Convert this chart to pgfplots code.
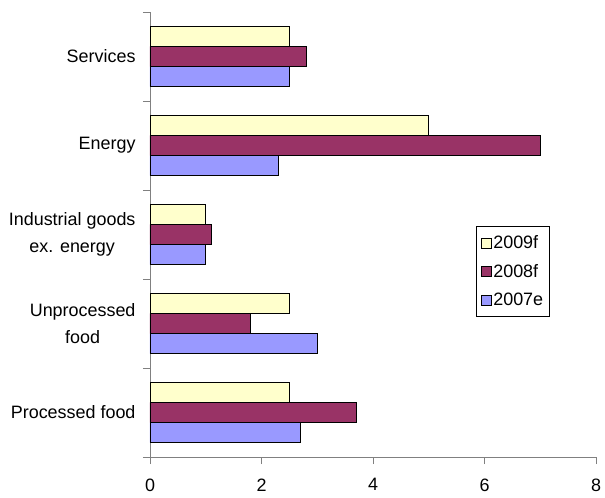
\documentclass[border=0pt]{standalone}
\usepackage{fontspec}
\setmainfont{Liberation Sans}
\usepackage{pgfplots}
\pgfplotsset{compat=1.18}
\definecolor{c09}{HTML}{FFFFCC}
\definecolor{c08}{HTML}{993366}
\definecolor{c07}{HTML}{9999FF}
\definecolor{axisgray}{HTML}{808080}

\begin{document}
\begin{tikzpicture}
\begin{axis}[
  at={(0,0)}, anchor=south west,
  scale only axis, width=446bp, height=445bp,
  xbar, bar width=20bp,
  xmin=0, xmax=8, ymin=-0.5, ymax=4.5,
  xtick={0,2,4,6,8},
  ytick={0,1,2,3,4},
  yticklabels={Processed food, {Unprocessed\\food}, {Industrial goods\\ex. energy}, Energy, Services},
  minor ytick={-0.5,0.5,1.5,2.5,3.5,4.5},
  axis x line*=bottom, axis y line*=left,
  axis line style={draw=axisgray, line width=0.8bp, -},
  tick align=outside,
  major tick length=7bp, minor tick length=7bp,
  tick style={draw=axisgray, line width=0.8bp},
  major y tick style={draw=none},
  font=\fontsize{18}{27}\selectfont,
  tick label style={font=\fontsize{18}{27}\selectfont},
  /pgf/number format/assume math mode=true,
  yticklabel style={align=center, xshift=-4bp},
  xticklabel style={yshift=-11bp},
  legend style={at={(rel axis cs:0.731,0.519)}, anchor=north west,
    draw=black, line width=0.6bp, inner xsep=4.5bp, inner ysep=7.5bp,
    font=\fontsize{18}{20}\selectfont, row sep=10bp},
  legend cell align=left,
  reverse legend,
  legend image code/.code={\draw[#1, draw=black, line width=0.5bp] (0bp,-5bp) rectangle (10bp,5bp);},
  every axis plot/.append style={draw=black, line width=0.6bp},
]
\addplot[fill=c07, bar shift=-20bp] coordinates {(2.7,0) (3.0,1) (1.0,2) (2.3,3) (2.5,4)};
\addplot[fill=c08, bar shift=0bp] coordinates {(3.7,0) (1.8,1) (1.1,2) (7.0,3) (2.8,4)};
\addplot[fill=c09, bar shift=20bp] coordinates {(2.5,0) (2.5,1) (1.0,2) (5.0,3) (2.5,4)};
\legend{2007e, 2008f, 2009f}
\end{axis}
\pgfresetboundingbox
\path[use as bounding box] (-150bp,-41bp) rectangle (455bp,457bp);
\end{tikzpicture}
\end{document}
